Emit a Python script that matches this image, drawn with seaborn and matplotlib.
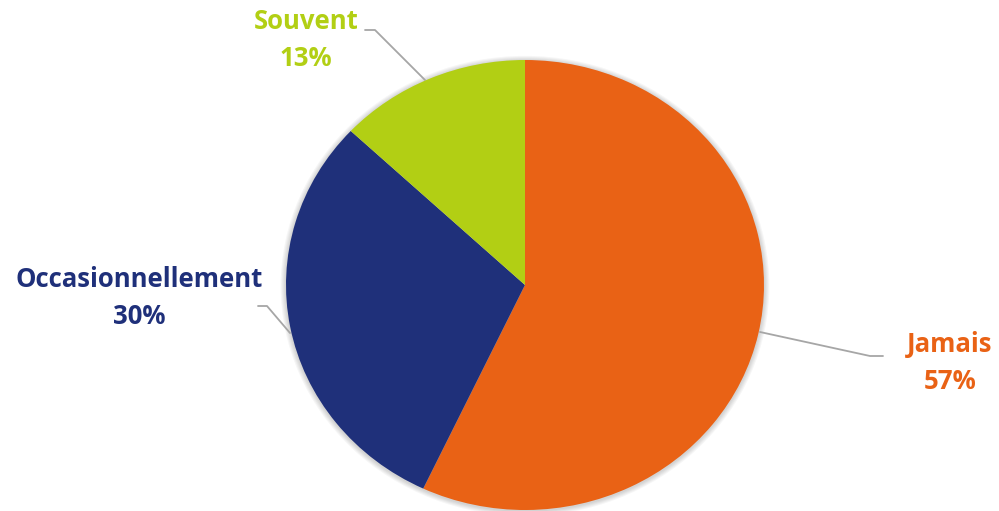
import matplotlib
matplotlib.use("Agg")
import matplotlib.pyplot as plt
import seaborn as sns
from matplotlib.patches import Ellipse

categories = ["Jamais", "Occasionnellement", "Souvent"]
values = [57, 30, 13]
colors = ["#E96215", "#1F307A", "#B2CF14"]

sns.set_theme(style="white")
plt.rcParams['font.family'] = ['Open Sans', 'DejaVu Sans']

W, H = 999, 511
CX, CY, RX, RY = 525, 285, 239, 225

fig = plt.figure(figsize=(W / 100, H / 100), dpi=100)
ax = fig.add_axes([0, 0, 1, 1])

def px(x, y):
    return ((x - CX) / RX, (CY - y) / RY)

# soft shadow
for k in range(1, 6):
    s = 1 + 0.0045 * k
    ax.add_patch(Ellipse((0.0, -0.004), 2 * s, 2 * s,
                         facecolor="black", edgecolor="none", alpha=0.035, zorder=0))

wedges, _ = ax.pie(values, colors=colors, startangle=90, counterclock=False,
                   radius=1.0, center=(0, 0), wedgeprops=dict(linewidth=0, zorder=2))

ax.set_aspect("auto")
x0, y0 = px(0, 0)
x1, y1 = px(W, H)
ax.set_xlim(x0, x1)
ax.set_ylim(y1, y0)
ax.axis("off")

# labels (pixel layout): center x, baseline of line 1, baseline of line 2
label_pos = {
    "Jamais": (950, 352, 389),
    "Occasionnellement": (139, 287, 324),
    "Souvent": (306, 29, 66),
}
leaders = {
    "Jamais": [(760, 332), (870, 356), (883, 356)],
    "Occasionnellement": [(258, 306), (267, 306), (290, 333)],
    "Souvent": [(365, 30), (375, 30), (425, 80)],
}
for cat, val, col in zip(categories, values, colors):
    cx, b1, b2 = label_pos[cat]
    for txt, b in ((cat, b1), (f"{val}%", b2)):
        lx, ly = px(cx, b)
        ax.text(lx, ly, txt, ha="center", va="baseline", color=col,
                fontsize=18.5, fontweight="bold", zorder=5)
    pts = [px(a, b) for a, b in leaders[cat]]
    ax.plot([p[0] for p in pts], [p[1] for p in pts], color="#A6A6A6", lw=1.3, zorder=1)

fig.savefig("out.png", dpi=100)
